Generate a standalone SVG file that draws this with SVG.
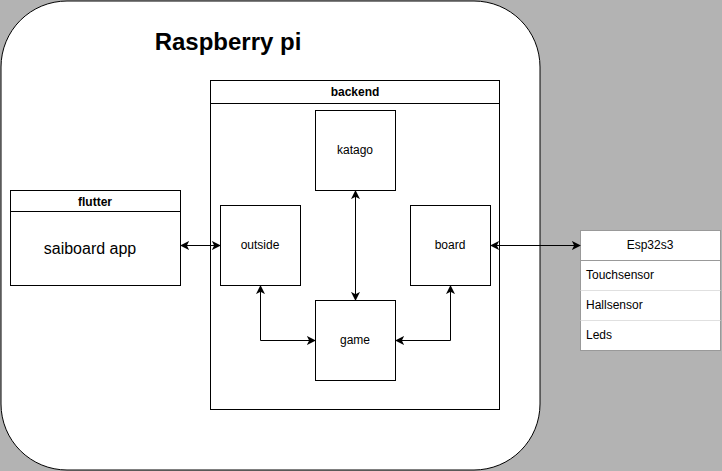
<svg xmlns="http://www.w3.org/2000/svg" width="722" height="471" viewBox="0 0 722 471">
<style>
text{font-family:"Liberation Sans",Arial,sans-serif;fill:#000}
.box{fill:#fff;stroke:#000;stroke-width:1}
.lbl{font-size:12px;text-anchor:middle}
.hdr{font-size:12px;font-weight:bold;text-anchor:middle}
.conn{fill:none;stroke:#000;stroke-width:1}
.row{font-size:12px}
</style>
<defs>
<marker id="ah" viewBox="0 0 10 10" refX="9" refY="5" markerWidth="9" markerHeight="9" markerUnits="userSpaceOnUse" orient="auto-start-reverse">
<path d="M0,0 L10,5 L0,10 L2.5,5 Z" fill="#000"/>
</marker>
</defs>
<rect x="0" y="0" width="722" height="471" fill="#b3b3b3"/>
<g id="raspberry">
<rect x="1" y="1" width="539" height="469" rx="66" ry="66" class="box"/>
<text x="228" y="50" font-size="24" font-weight="bold" text-anchor="middle">Raspberry pi</text>
</g>
<g id="backend">
<rect x="210.5" y="80.5" width="289" height="329" class="box"/>
<line x1="210.5" y1="103.5" x2="499.5" y2="103.5" stroke="#000"/>
<text x="355" y="96" class="hdr">backend</text>
</g>
<g id="flutter">
<rect x="10.5" y="190.5" width="170" height="95" class="box"/>
<line x1="10.5" y1="211.5" x2="180.5" y2="211.5" stroke="#000"/>
<text x="95" y="206" class="hdr">flutter</text>
<text x="90" y="254" font-size="16" text-anchor="middle">saiboard app</text>
</g>
<g id="katago">
<rect x="315.5" y="110.5" width="80" height="80" class="box"/>
<text x="355" y="154" class="lbl">katago</text>
</g>
<g id="outside">
<rect x="220.5" y="205.5" width="80" height="80" class="box"/>
<text x="260" y="249" class="lbl">outside</text>
</g>
<g id="board">
<rect x="410.5" y="205.5" width="80" height="80" class="box"/>
<text x="450" y="249" class="lbl">board</text>
</g>
<g id="game">
<rect x="315.5" y="300.5" width="80" height="80" class="box"/>
<text x="355" y="344" class="lbl">game</text>
</g>
<g id="esp32s3">
<rect x="580.5" y="230.5" width="140" height="120" fill="#fff" stroke="#999"/>
<line x1="580.5" y1="260.5" x2="720.5" y2="260.5" stroke="#999"/>
<line x1="580.5" y1="290.5" x2="720.5" y2="290.5" stroke="#e0e0e0"/>
<line x1="580.5" y1="320.5" x2="720.5" y2="320.5" stroke="#e0e0e0"/>
<text x="650" y="249" class="lbl">Esp32s3</text>
<text x="586" y="279" class="row">Touchsensor</text>
<text x="586" y="309" class="row">Hallsensor</text>
<text x="586" y="339" class="row">Leds</text>
</g>
<g id="connectors">
<path d="M181,245.5 L220,245.5" class="conn" marker-start="url(#ah)" marker-end="url(#ah)"/>
<path d="M491,245.5 L580,245.5" class="conn" marker-start="url(#ah)" marker-end="url(#ah)"/>
<path d="M355.5,191 L355.5,300" class="conn" marker-start="url(#ah)" marker-end="url(#ah)"/>
<path d="M260.5,286 L260.5,340.5 L315,340.5" class="conn" marker-start="url(#ah)" marker-end="url(#ah)"/>
<path d="M450.5,286 L450.5,340.5 L396,340.5" class="conn" marker-start="url(#ah)" marker-end="url(#ah)"/>
</g>
</svg>
